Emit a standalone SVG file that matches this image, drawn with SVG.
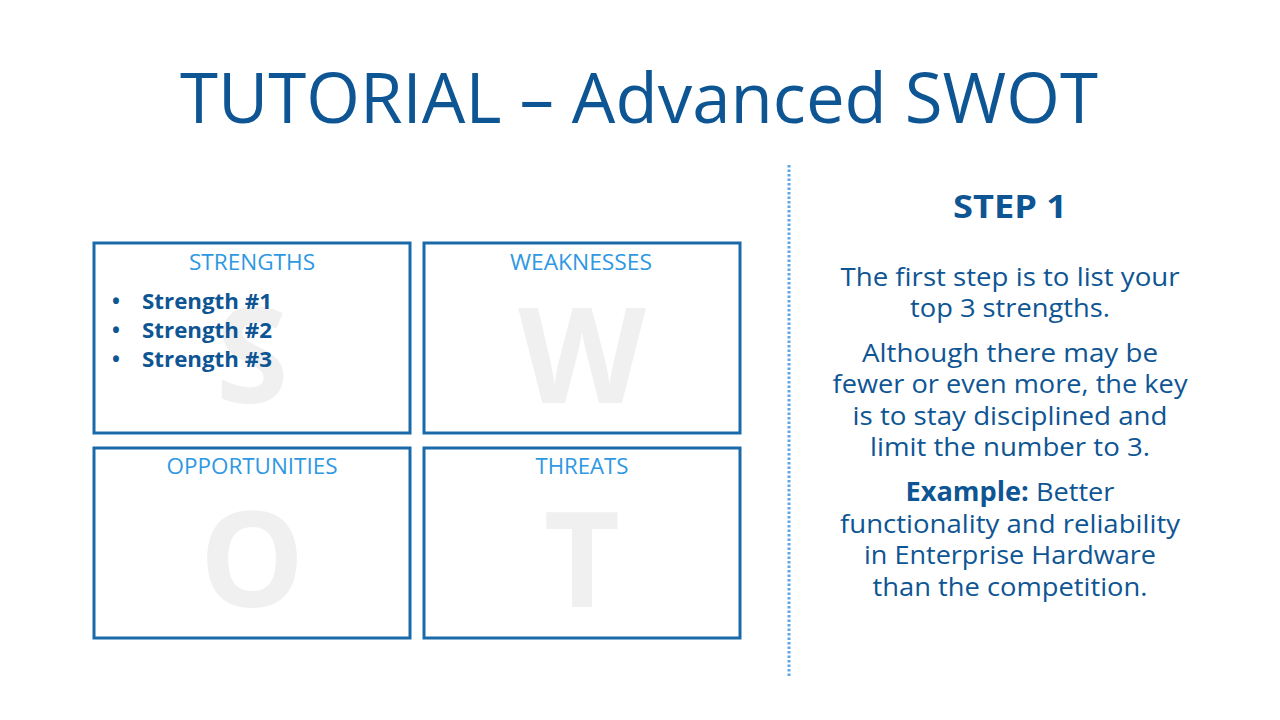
<svg xmlns="http://www.w3.org/2000/svg" width="1280" height="720" viewBox="0 0 1280 720">
  <style>
    .title { font-family: "Open Sans", "Noto Sans", sans-serif; font-size: 70px; fill: #0E5594; text-anchor: middle; }
    .box { fill: #FFFFFF; stroke: #1A6AAA; stroke-width: 3; }
    .label { font-family: "Open Sans", "Noto Sans", sans-serif; font-size: 21px; fill: #2E98E2; text-anchor: middle; }
    .big { font-family: "Open Sans", "Noto Sans", sans-serif; font-size: 132px; font-weight: 700; fill: #F0F0F0; text-anchor: middle; }
    .item { font-family: "Open Sans", "Noto Sans", sans-serif; font-size: 21px; font-weight: 700; fill: #0E5594; }
    .step { font-family: "Open Sans", "Noto Sans", sans-serif; font-size: 32px; font-weight: 700; fill: #0E5594; text-anchor: middle; }
    .body { font-family: "Open Sans", "Noto Sans", sans-serif; font-size: 26px; fill: #0E5594; text-anchor: middle; }
    .divider { stroke: #5FA8E4; stroke-width: 3; stroke-dasharray: 2.5 2; fill: none; }
  </style>
  <rect width="1280" height="720" fill="#FFFFFF"/>

  <text class="title" x="639" y="123" textLength="918" lengthAdjust="spacingAndGlyphs">TUTORIAL – Advanced SWOT</text>

  <!-- quadrant boxes: watermark letter first, then heading and items on top -->
  <g id="strengths">
    <rect class="box" x="94" y="243" width="316" height="190"/>
    <text class="big" x="252" y="403">S</text>
    <text class="label" x="252" y="270" textLength="126" lengthAdjust="spacingAndGlyphs">STRENGTHS</text>
    <text class="item" x="112" y="309">•</text>
    <text class="item" x="142" y="309" textLength="130" lengthAdjust="spacingAndGlyphs">Strength #1</text>
    <text class="item" x="112" y="338">•</text>
    <text class="item" x="142" y="338" textLength="130" lengthAdjust="spacingAndGlyphs">Strength #2</text>
    <text class="item" x="112" y="367">•</text>
    <text class="item" x="142" y="367" textLength="130" lengthAdjust="spacingAndGlyphs">Strength #3</text>
  </g>

  <g id="weaknesses">
    <rect class="box" x="424" y="243" width="316" height="190"/>
    <text class="big" x="582" y="403">W</text>
    <text class="label" x="581" y="270" textLength="142" lengthAdjust="spacingAndGlyphs">WEAKNESSES</text>
  </g>

  <g id="opportunities">
    <rect class="box" x="94" y="448" width="316" height="190"/>
    <text class="big" x="252" y="607">O</text>
    <text class="label" x="252" y="474" textLength="171" lengthAdjust="spacingAndGlyphs">OPPORTUNITIES</text>
  </g>

  <g id="threats">
    <rect class="box" x="424" y="448" width="316" height="190"/>
    <text class="big" x="582" y="607">T</text>
    <text class="label" x="582" y="474" textLength="93" lengthAdjust="spacingAndGlyphs">THREATS</text>
  </g>

  <g id="connectors">
    <line class="divider" x1="789" y1="165" x2="789" y2="676"/>
  </g>

  <g id="step">
    <text class="step" x="1010" y="218" textLength="114" lengthAdjust="spacingAndGlyphs">STEP 1</text>
    <text class="body" x="1010" y="286" textLength="339" lengthAdjust="spacingAndGlyphs">The first step is to list your</text>
    <text class="body" x="1010" y="317" textLength="200" lengthAdjust="spacingAndGlyphs">top 3 strengths.</text>
    <text class="body" x="1010" y="362" textLength="296" lengthAdjust="spacingAndGlyphs">Although there may be</text>
    <text class="body" x="1010" y="393" textLength="355" lengthAdjust="spacingAndGlyphs">fewer or even more, the key</text>
    <text class="body" x="1010" y="425" textLength="315" lengthAdjust="spacingAndGlyphs">is to stay disciplined and</text>
    <text class="body" x="1010" y="456" textLength="280" lengthAdjust="spacingAndGlyphs">limit the number to 3.</text>
    <text class="body" x="1010" y="501" textLength="209" lengthAdjust="spacingAndGlyphs"><tspan font-weight="700">Example:</tspan> Better</text>
    <text class="body" x="1010" y="533" textLength="340" lengthAdjust="spacingAndGlyphs">functionality and reliability</text>
    <text class="body" x="1010" y="564" textLength="292" lengthAdjust="spacingAndGlyphs">in Enterprise Hardware</text>
    <text class="body" x="1010" y="596" textLength="275" lengthAdjust="spacingAndGlyphs">than the competition.</text>
  </g>
</svg>
